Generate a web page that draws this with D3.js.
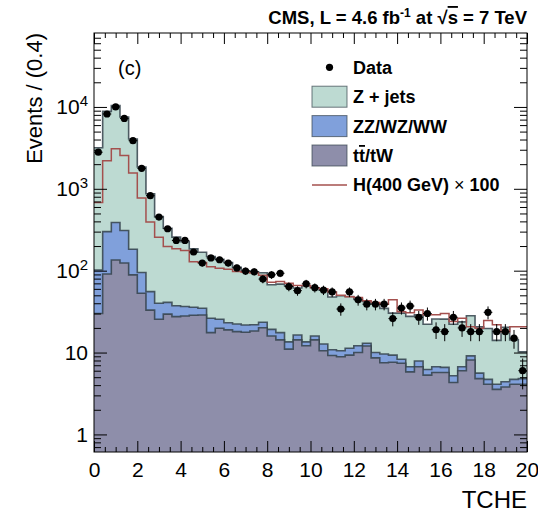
<!DOCTYPE html>
<html>
<head>
<meta charset="utf-8">
<script src="https://cdn.jsdelivr.net/npm/d3@7"></script>
<style>
  body { margin: 0; background: #fff; }
  text { font-family: "Liberation Sans", Arial, Helvetica, sans-serif; }
</style>
</head>
<body>
<svg id="chart" width="538" height="512"></svg>
<script>
// TCHE distribution, 50 bins of 0.4 from 0 to 20
const binWidth = 0.4
const binLow = d3.range(50).map(i => +(i * binWidth).toFixed(1))

const dataCounts = [2800, 8200, 10000, 7240, 3870, 1780, 824, 452, 325, 234, 234, 169, 124, 143, 136, 124,
  108, 99, 97, 79, 89, 93, 64, 57, 69, 62, 58, 55, 34, 55, 44, 39, 39,
  39, 26, 35, 37, 27, 30, 19, 18, 27, 20, 18, 18, 31, 18, 18, 15, 6]

const zJets = [3068, 8530, 9993, 7240, 3877, 1750, 815, 418, 289, 220, 190, 149, 133, 123, 112, 103,
  88, 78, 75, 71, 48, 51, 52, 45, 52, 46, 45, 37, 39, 37, 33, 29, 30,
  25, 21, 22, 21, 21, 16, 19, 19, 17, 17, 19, 15, 15, 10, 16, 9.6, 5.4]

const diboson = [72, 209, 252, 186, 94, 42, 22.5, 14.5, 11.5, 9.8, 8.5, 7.3, 6.1, 8.7, 5.7, 4.2,
  4.3, 4, 3.6, 3.3, 3.3, 3.2, 2.5, 2.1, 1.4, 1.6, 2.2, 1.6, 1.6, 2, 2.1, 1, 1.4,
  2.1, 1.7, 0.9, 0.9, 1.2, 0.9, 1, 0.9, 0.9, 0.7, 1, 0.8, 0.6, 0.55, 0.6, 0.6, 0.7]

const ttbar = [30, 91, 135, 124, 89, 53, 33, 25.5, 29.5, 27.5, 28, 28.5, 28.7, 17.5, 19.8, 18.9,
  18, 17.7, 18.3, 20.1, 15.9, 14.3, 11, 14.3, 12.1, 14.3, 10.5, 9.2, 8.9, 9.3, 10, 12, 8.6,
  7.5, 7.6, 7.4, 5.8, 6.7, 5.3, 5.7, 5.7, 4.3, 6, 8.1, 4.8, 4.1, 3.55, 3.8, 4.1, 4.1]

const higgsX100 = [680, 2200, 3090, 2560, 1560, 771, 392, 256, 197, 185, 176, 129, 126, 112, 107, 104, 98,
  96, 94, 88, 72, 74, 70, 66, 66, 62, 60, 55, 50, 48, 47, 43, 41,
  39, 44, 31.6, 30.7, 33, 29, 29, 30, 23.9, 26.2, 20.7, 19.8, 24.6, 21.8, 18, 20.7, 20.7]

const xMajorTicks = [0, 2, 4, 6, 8, 10, 12, 14, 16, 18, 20]
const yMajorTicks = [1, 10, 100, 1000, 10000]

const legendNames = ['Data', 'Z + jets', 'ZZ/WZ/WW', 'tt̄/tW', 'H(400 GeV) × 100']

const colors = {
  zjets: '#bddad2',
  diboson: '#80a0db',
  ttbar: '#8e8eaa',
  outline: '#34424b',
  higgs: '#a4504e'
}

const svg = d3.select('#chart')
const pLeft = 94, pRight = 527, pTop = 33, pBottom = 452

const x = d3.scaleLinear().domain([0, 20]).range([pLeft, pRight])
const y = d3.scaleLog().domain([0.61, 8e4]).range([pBottom, pTop])

// table for the stack
const rows = binLow.map((lo, i) => ({ lo: lo, ttbar: ttbar[i], diboson: diboson[i], zjets: zJets[i] }))
const series = d3.stack().keys(['ttbar', 'diboson', 'zjets'])(rows)

svg.append('clipPath').attr('id', 'plotclip')
  .append('rect').attr('x', pLeft).attr('y', pTop).attr('width', pRight - pLeft).attr('height', pBottom - pTop)

const plot = svg.append('g').attr('clip-path', 'url(#plotclip)')

// step points: one per bin edge, last edge repeats last value
function stepPoints (vals) {
  const pts = vals.map((v, i) => [binLow[i], v])
  pts.push([20, vals[vals.length - 1]])
  return pts
}

const area = d3.area()
  .x(d => x(d[0]))
  .y0(pBottom + 2)
  .y1(d => y(d[1]))
  .curve(d3.curveStepAfter)

const line = d3.line()
  .x(d => x(d[0]))
  .y(d => y(d[1]))
  .curve(d3.curveStepAfter)

// draw top layer first so lower layers paint over it
const order = ['zjets', 'diboson', 'ttbar']
order.forEach(key => {
  const s = series.find(d => d.key === key)
  const tops = s.map(d => d[1])
  const pts = stepPoints(tops)
  plot.append('path')
    .attr('d', area(pts))
    .attr('fill', colors[key])
  plot.append('path')
    .attr('d', line(pts))
    .attr('fill', 'none')
    .attr('stroke', colors.outline)
    .attr('stroke-width', 1.6)
    .attr('stroke-opacity', 0.85)
})

// signal x100
plot.append('path')
  .attr('d', line(stepPoints(higgsX100)))
  .attr('fill', 'none')
  .attr('stroke', colors.higgs)
  .attr('stroke-width', 1.5)

// data points with sqrt(N) errors
const dataG = plot.append('g')
dataCounts.forEach((n, i) => {
  const cx = x(binLow[i] + binWidth / 2)
  const err = Math.sqrt(n)
  dataG.append('line')
    .attr('x1', cx).attr('x2', cx)
    .attr('y1', y(n + err)).attr('y2', y(Math.max(n - err, 0.61)))
    .attr('stroke', '#000').attr('stroke-width', 1)
  dataG.append('line')
    .attr('x1', x(binLow[i])).attr('x2', x(binLow[i] + binWidth))
    .attr('y1', y(n)).attr('y2', y(n))
    .attr('stroke', '#000').attr('stroke-width', 1)
  dataG.append('circle')
    .attr('cx', cx).attr('cy', y(n)).attr('r', 3.6)
    .attr('fill', '#000')
})

// axes (ticks pointing inside, ROOT style)
const xMinor = d3.range(0, 20.01, 0.5).filter(v => v % 2 !== 0)
const yMinor = []
;[0.1, 1, 10, 100, 1000, 10000].forEach(dec => {
  for (let k = 2; k <= 9; k++) {
    const v = dec * k
    if (v > 0.61 && v < 8e4) yMinor.push(v)
  }
})

function styleAxis (g) {
  g.select('.domain').remove()
  g.selectAll('.tick line').attr('stroke', '#000').attr('stroke-width', 1)
}

svg.append('g').attr('transform', `translate(0,${pBottom})`)
  .call(d3.axisBottom(x).tickValues(xMajorTicks).tickSize(-11).tickPadding(10).tickFormat(d3.format('d')))
  .call(styleAxis)
  .call(g => g.selectAll('text').attr('font-size', 21).attr('fill', '#000')
    .style('font-family', '"Liberation Sans", Arial, sans-serif'))
svg.append('g').attr('transform', `translate(0,${pBottom})`)
  .call(d3.axisBottom(x).tickValues(xMinor).tickSize(-5).tickFormat(''))
  .call(styleAxis)
svg.append('g').attr('transform', `translate(0,${pTop})`)
  .call(d3.axisTop(x).tickValues(xMajorTicks).tickSize(-11).tickFormat(''))
  .call(styleAxis)
svg.append('g').attr('transform', `translate(0,${pTop})`)
  .call(d3.axisTop(x).tickValues(xMinor).tickSize(-5).tickFormat(''))
  .call(styleAxis)

const yAxisG = svg.append('g').attr('transform', `translate(${pLeft},0)`)
  .call(d3.axisLeft(y).tickValues(yMajorTicks).tickSize(-13).tickPadding(6).tickFormat(d => d))
  .call(styleAxis)
yAxisG.selectAll('.tick text')
  .attr('font-size', 21).attr('fill', '#000')
  .style('font-family', '"Liberation Sans", Arial, sans-serif')
  .each(function (d) {
    const t = d3.select(this)
    const exp = Math.round(Math.log10(d))
    if (exp >= 2) {
      t.text('10')
      t.append('tspan').attr('dy', '-0.55em').attr('font-size', 15).text(exp)
    }
  })
svg.append('g').attr('transform', `translate(${pLeft},0)`)
  .call(d3.axisLeft(y).tickValues(yMinor).tickSize(-7).tickFormat(''))
  .call(styleAxis)
svg.append('g').attr('transform', `translate(${pRight},0)`)
  .call(d3.axisRight(y).tickValues(yMajorTicks).tickSize(-13).tickFormat(''))
  .call(styleAxis)
svg.append('g').attr('transform', `translate(${pRight},0)`)
  .call(d3.axisRight(y).tickValues(yMinor).tickSize(-7).tickFormat(''))
  .call(styleAxis)

// frame
svg.append('rect')
  .attr('x', pLeft).attr('y', pTop).attr('width', pRight - pLeft).attr('height', pBottom - pTop)
  .attr('fill', 'none').attr('stroke', '#000').attr('stroke-width', 1)

// titles
svg.append('text')
  .attr('transform', 'translate(42,33) rotate(-90)')
  .attr('text-anchor', 'end')
  .attr('font-size', 22)
  .text('Events / (0.4)')

svg.append('text')
  .attr('x', pRight).attr('y', 508)
  .attr('text-anchor', 'end')
  .attr('font-size', 24)
  .text('TCHE')

const title = svg.append('text')
  .attr('x', pRight).attr('y', 24)
  .attr('text-anchor', 'end')
  .attr('font-size', 18.5)
  .attr('font-weight', 'bold')
title.append('tspan').text('CMS, L = 4.6 fb')
title.append('tspan').attr('dy', -7).attr('font-size', 12).text('-1')
title.append('tspan').attr('dy', 7).text(' at √')
title.append('tspan').style('text-decoration', 'overline').text('s')
title.append('tspan').text(' = 7 TeV')

svg.append('text')
  .attr('x', 118).attr('y', 75)
  .attr('font-size', 20)
  .text('(c)')

// legend
const legend = svg.append('g')
const lx = 312, lw = 35, lh = 21, ly0 = 67.3, lstep = 29.4, tx = 353
legendNames.forEach((name, i) => {
  const cy = ly0 + i * lstep
  if (i === 0) {
    legend.append('circle').attr('cx', lx + lw / 2).attr('cy', cy).attr('r', 3.6).attr('fill', '#000')
  } else if (i === 4) {
    legend.append('line').attr('x1', lx).attr('x2', lx + lw).attr('y1', cy).attr('y2', cy)
      .attr('stroke', colors.higgs).attr('stroke-width', 1.5)
  } else {
    const key = ['zjets', 'diboson', 'ttbar'][i - 1]
    legend.append('rect').attr('x', lx).attr('y', cy - lh / 2).attr('width', lw).attr('height', lh)
      .attr('fill', colors[key]).attr('stroke', colors.outline).attr('stroke-opacity', 0.7).attr('stroke-width', 1)
  }
  const t = legend.append('text')
    .attr('x', tx).attr('y', cy + 6.5)
    .attr('font-size', 18).attr('font-weight', 'bold')
  if (i === 3) {
    t.append('tspan').text('t')
    t.append('tspan').style('text-decoration', 'overline').text('t')
    t.append('tspan').text('/tW')
  } else if (i === 4) {
    t.append('tspan').text('H(400 GeV)')
    t.append('tspan').attr('font-weight', 'normal').text(' × ')
    t.append('tspan').text('100')
  } else {
    t.text(name)
  }
})
</script>
</body>
</html>
